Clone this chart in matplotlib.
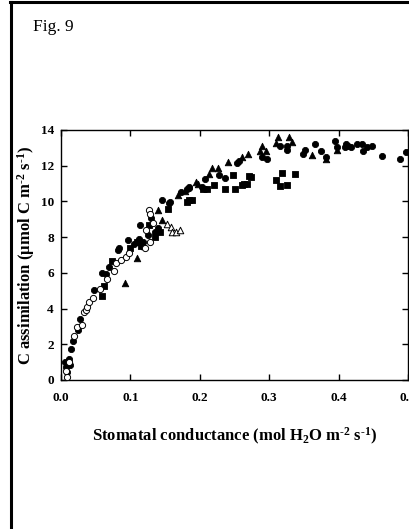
import matplotlib
matplotlib.use("Agg")
import matplotlib.pyplot as plt
from matplotlib.lines import Line2D

plt.rcParams['font.family'] = ['Liberation Serif', 'DejaVu Serif']
plt.rcParams['font.weight'] = 'bold'
plt.rcParams['mathtext.fontset'] = 'custom'
plt.rcParams['mathtext.rm'] = 'Liberation Serif:bold'
plt.rcParams['mathtext.it'] = 'Liberation Serif:bold'
plt.rcParams['mathtext.bf'] = 'Liberation Serif:bold'

# filled circles
gs_fc = [0.006, 0.007, 0.009, 0.013, 0.011, 0.014, 0.0168, 0.0249, 0.0273, 0.048, 0.0585, 0.0656,
         0.0694, 0.083, 0.082, 0.097, 0.105, 0.112, 0.1135, 0.118, 0.125, 0.13, 0.135, 0.14, 0.145, 0.156,
         0.157, 0.173, 0.181, 0.184, 0.185, 0.203, 0.207, 0.208, 0.228, 0.236, 0.254, 0.257,
         0.290, 0.297, 0.316, 0.325, 0.325, 0.348, 0.352, 0.366, 0.374, 0.382, 0.394, 0.397,
         0.41, 0.409, 0.414, 0.417, 0.427, 0.434, 0.435, 0.441, 0.448, 0.462, 0.488, 0.497]
A_fc = [1.03, 0.75, 0.46, 0.84, 1.2, 1.72, 2.2, 2.8, 3.4, 5.04, 6.0, 5.92,
        6.31, 7.37, 7.28, 7.84, 7.6, 7.9, 8.68, 7.7, 8.1, 9.05, 8.3, 8.5, 10.08, 9.9,
        9.95, 10.54, 10.69, 10.73, 10.8, 10.8, 11.25, 10.7, 11.5, 11.3, 12.15, 12.26,
        12.5, 12.4, 13.1, 13.1, 12.9, 12.65, 12.9, 13.2, 12.8, 12.5, 13.4, 13.05,
        13.2, 13.06, 13.1, 13.03, 13.2, 13.2, 12.84, 13.06, 13.1, 12.54, 12.36, 12.78]

# open circles
gs_oc = [0.009, 0.008, 0.011, 0.0187, 0.0235, 0.0297, 0.033, 0.0355, 0.037, 0.041, 0.0465, 0.056,
         0.067, 0.0766, 0.08, 0.087, 0.093, 0.098, 0.121, 0.123, 0.128, 0.127, 0.128, 0.133]
A_oc = [0.19, 0.5, 1.0, 2.46, 2.95, 3.08, 3.79, 3.92, 4.1, 4.38, 4.57, 5.08,
        5.64, 6.12, 6.53, 6.72, 6.9, 7.1, 7.37, 8.4, 7.74, 9.52, 9.3, 8.77]

# filled triangles
gs_ft = [0.092, 0.109, 0.12, 0.14, 0.145, 0.169, 0.178, 0.197, 0.195, 0.213, 0.218, 0.226,
         0.241, 0.260, 0.269, 0.287, 0.290, 0.295, 0.309, 0.312, 0.328, 0.333, 0.362, 0.381, 0.397]
A_ft = [5.45, 6.81, 7.5, 9.52, 8.96, 10.36, 10.58, 11.0, 11.09, 11.53, 11.87, 11.87,
        12.2, 12.49, 12.65, 12.8, 13.1, 12.8, 13.27, 13.6, 13.6, 13.3, 12.6, 12.4, 12.9]

# open triangles
gs_ot = [0.152, 0.159, 0.16, 0.165, 0.171]
A_ot = [8.72, 8.58, 8.27, 8.3, 8.4]

# filled squares
gs_fs = [0.0585, 0.062, 0.0742, 0.1, 0.11, 0.115, 0.127, 0.135, 0.142, 0.154, 0.181, 0.185,
         0.188, 0.204, 0.211, 0.221, 0.236, 0.248, 0.251, 0.26, 0.263, 0.268, 0.271, 0.273,
         0.309, 0.316, 0.318, 0.325, 0.337]
A_fs = [4.7, 5.26, 6.68, 7.4, 7.7, 7.5, 8.68, 8.0, 8.3, 9.6, 9.98, 10.08,
        10.08, 10.7, 10.7, 10.9, 10.7, 11.5, 10.68, 10.9, 10.97, 11.0, 11.44, 11.38,
        11.2, 10.86, 11.57, 10.92, 11.52]

fig = plt.figure(figsize=(4.09, 5.29), dpi=100)
ax = fig.add_axes([0.149, 0.2817, 0.849, 0.4726])

ax.scatter(gs_fc, A_fc, s=20, marker='o', facecolor='black', edgecolor='black', linewidths=0.6, zorder=3)
ax.scatter(gs_oc, A_oc, s=20, marker='o', facecolor='white', edgecolor='black', linewidths=0.7, zorder=4)
ax.scatter(gs_ft, A_ft, s=22, marker='^', facecolor='black', edgecolor='black', linewidths=0.6, zorder=3)
ax.scatter(gs_ot, A_ot, s=22, marker='^', facecolor='white', edgecolor='black', linewidths=0.7, zorder=4)
ax.scatter(gs_fs, A_fs, s=16, marker='s', facecolor='black', edgecolor='black', linewidths=0.6, zorder=3)

ax.set_xlim(0, 0.5)
ax.set_ylim(0, 14)
ax.set_xticks([0.0, 0.1, 0.2, 0.3, 0.4, 0.5])
ax.set_xticklabels(['0.0', '0.1', '0.2', '0.3', '0.4', '0.5'])
ax.set_yticks([0, 2, 4, 6, 8, 10, 12, 14])
ax.tick_params(direction='in', length=4, width=1, top=True, right=True, labelsize=9.5, pad=5)
ax.tick_params(axis='x', pad=8.5)
for sp in ax.spines.values():
    sp.set_linewidth(1.0)

ax.set_xlabel(r'Stomatal conductance (mol H$_2$O m$^{\text{-}2}$ s$^{\text{-}1}$)',
              fontsize=12, fontweight='bold')
ax.set_ylabel(r'C assimilation (μmol C m$^{\text{-}2}$ s$^{\text{-}1}$)',
              fontsize=12, fontweight='bold')
ax.xaxis.set_label_coords(0.5, -0.185)
ax.yaxis.set_label_coords(-0.07, 0.5)

fig.text(0.081, 0.941, 'Fig. 9', fontsize=12.5, fontweight='normal', ha='left', va='baseline')

# page frame (left and top edges)
fig.add_artist(Line2D([0.027, 0.027], [0.0, 0.997], transform=fig.transFigure, color='black', lw=2.2))
fig.add_artist(Line2D([0.025, 1.0], [0.996, 0.996], transform=fig.transFigure, color='black', lw=2.2))

fig.savefig('out.png', dpi=100)
